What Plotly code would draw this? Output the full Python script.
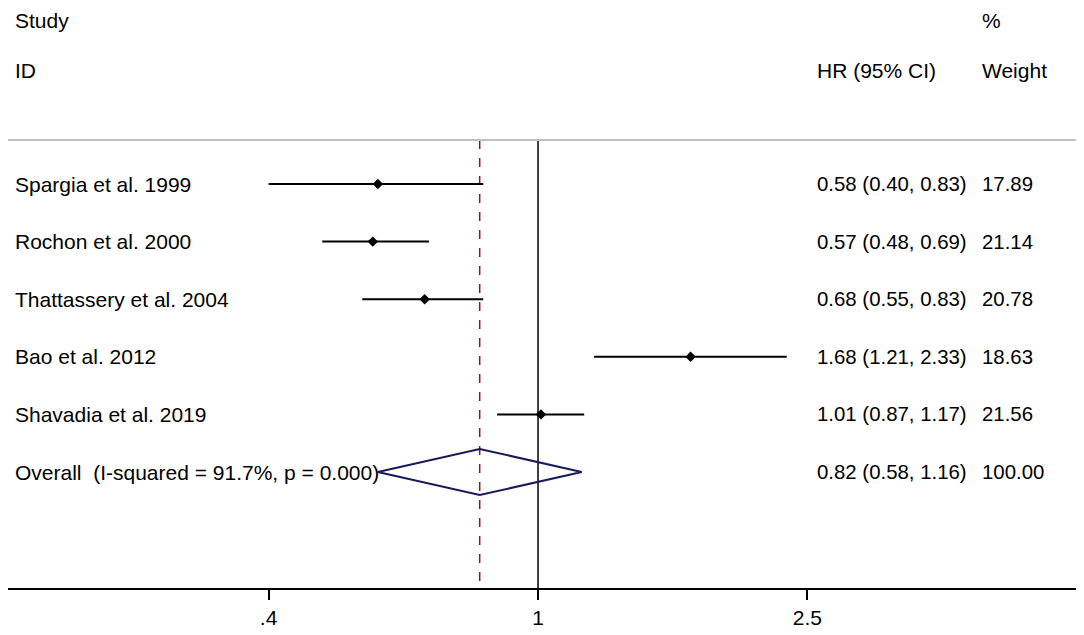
import plotly.graph_objects as go

# study-level data
studies = ["Spargia et al. 1999", "Rochon et al. 2000", "Thattassery et al. 2004",
           "Bao et al. 2012", "Shavadia et al. 2019"]
hr = [0.58, 0.57, 0.68, 1.68, 1.01]
ci_lo = [0.40, 0.48, 0.55, 1.21, 0.87]
ci_hi = [0.83, 0.69, 0.83, 2.33, 1.17]
weights = [17.89, 21.14, 20.78, 18.63, 21.56]

# pooled estimate
overall_hr = 0.82
overall_lo = 0.58
overall_hi = 1.16
overall_label = "Overall\u00a0 (I-squared = 91.7%, p = 0.000)"

tick_vals = [0.4, 1, 2.5]
tick_text = [".4", "1", "2.5"]

FONT = "Liberation Sans, Arial, sans-serif"
FS = 21
FS_NUM = 20.4
Y_TOP, Y_BOT = 0.236, 8.014

# column positions (paper fraction)
X_STUDY, X_HR, X_W = 0.0056, 0.7528, 0.9065

fig = go.Figure()

rows = list(range(1, len(studies) + 1))
over_row = len(studies) + 1

# reference line at 1 and dashed line at the pooled estimate
fig.add_trace(go.Scatter(x=[1, 1], y=[Y_TOP, Y_BOT], mode="lines",
                         line=dict(color="black", width=1.5), hoverinfo="skip"))
fig.add_trace(go.Scatter(x=[overall_hr, overall_hr], y=[Y_TOP, Y_BOT], mode="lines",
                         line=dict(color="#8b1a1a", width=1.5, dash="dash"), hoverinfo="skip"))

# confidence intervals
xs, ys = [], []
for k, lo, hi in zip(rows, ci_lo, ci_hi):
    xs += [lo, hi, None]
    ys += [k, k, None]
fig.add_trace(go.Scatter(x=xs, y=ys, mode="lines",
                         line=dict(color="black", width=2), hoverinfo="skip"))

# point estimates
fig.add_trace(go.Scatter(x=hr, y=rows, mode="markers",
                         marker=dict(symbol="diamond", size=8, color="black")))

# pooled diamond
h = 0.4
fig.add_trace(go.Scatter(
    x=[overall_lo, overall_hr, overall_hi, overall_hr, overall_lo],
    y=[over_row, over_row - h, over_row, over_row + h, over_row],
    mode="lines", line=dict(color="#1a1a5a", width=2), hoverinfo="skip"))

ann = []
def txt(x, y, s, yref="y", yanchor="middle", size=FS):
    ann.append(dict(x=x, y=y, xref="paper", yref=yref, text=s, showarrow=False,
                    xanchor="left", yanchor=yanchor, borderpad=0,
                    font=dict(family=FONT, size=size, color="black")))

# header (top row pinned to the top edge so it is not clipped)
txt(X_STUDY, 1.2946, "Study", "paper", "top")
txt(X_STUDY, 1.156, "ID", "paper")
txt(X_HR, 1.156, "HR (95% CI)", "paper")
txt(X_W, 1.2946, "%", "paper", "top")
txt(X_W, 1.156, "Weight", "paper")

for k, s, e, lo, hi, w in zip(rows, studies, hr, ci_lo, ci_hi, weights):
    txt(X_STUDY, k, s)
    txt(X_HR, k, f"{e:.2f} ({lo:.2f}, {hi:.2f})", size=FS_NUM)
    txt(X_W, k, f"{w:.2f}", size=FS_NUM)

txt(X_STUDY, over_row, overall_label)
txt(X_HR, over_row, f"{overall_hr:.2f} ({overall_lo:.2f}, {overall_hi:.2f})", size=FS_NUM)
txt(X_W, over_row, f"{sum(weights):.2f}", size=FS_NUM)

# page has an 8px body margin, so the figure is sized to fit inside it
fig.update_layout(
    width=1076, height=627,
    margin=dict(l=0, r=3, t=132, b=47, pad=0),
    paper_bgcolor="white", plot_bgcolor="white",
    showlegend=False,
    annotations=ann,
    shapes=[dict(type="line", xref="paper", yref="paper", x0=0, x1=0.997, y0=1, y1=1,
                 line=dict(color="#c0c0c0", width=2))],
    xaxis=dict(type="log", range=[-0.7829, 0.802], showgrid=False, zeroline=False,
               showline=True, linecolor="black", linewidth=1.5,
               ticks="outside", ticklen=10, tickwidth=1.5, tickcolor="black",
               tickvals=tick_vals, ticktext=tick_text,
               tickfont=dict(family=FONT, size=FS, color="black")),
    yaxis=dict(range=[Y_BOT, Y_TOP], showgrid=False, zeroline=False, showline=False,
               showticklabels=False, ticks=""),
)

fig.write_html("out.html")
